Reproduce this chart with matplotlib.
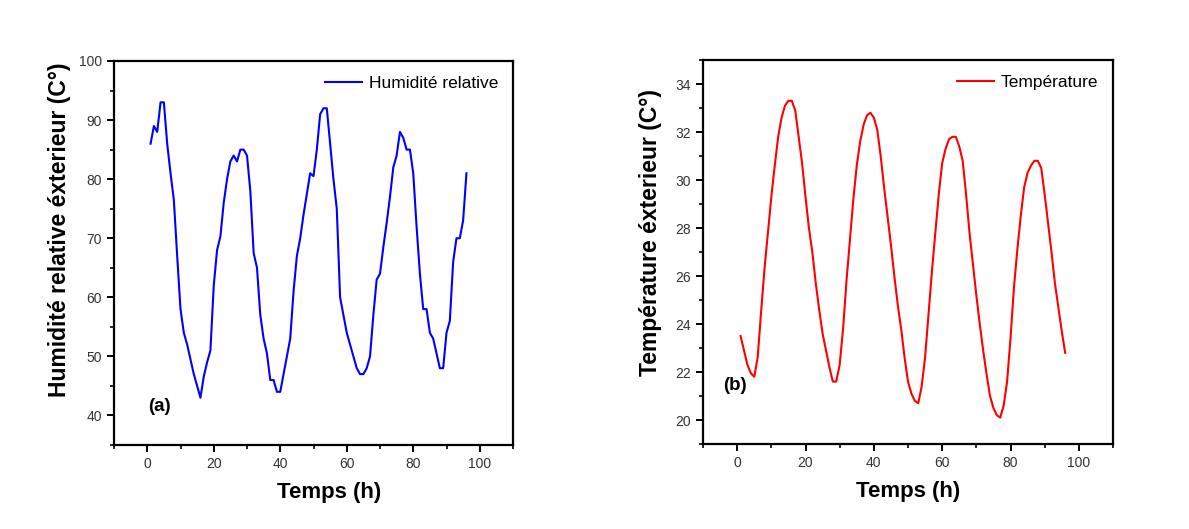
import matplotlib
matplotlib.use("Agg")
import matplotlib.pyplot as plt
from matplotlib.ticker import MultipleLocator

plt.rcParams['font.family'] = ['Liberation Sans', 'DejaVu Sans']

hours = list(range(1, 97))

humidity = [86, 89, 88, 93, 93, 86, 81, 76.5, 67, 58,
            54, 52, 49.5, 47, 45, 43, 46.6, 49, 51, 62,
            68, 70.3, 76, 80, 83, 84, 83, 85, 85, 84,
            78, 67.5, 65, 57, 53, 50.5, 46, 46, 44, 44,
            47, 50, 53, 61, 67, 70, 74, 77.5, 81, 80.5,
            85, 91, 92, 92, 86, 80, 75, 60, 57, 54,
            52, 50, 48, 47, 47, 48, 50, 57, 63, 64,
            68.5, 72.6, 77, 82, 84, 88, 87, 85, 85, 81,
            72, 64, 58, 58, 54, 53, 50.5, 48, 48, 54,
            56, 66, 70, 70, 73, 81]

temperature = [23.5, 22.9, 22.3, 21.95, 21.8, 22.6, 24.5, 26.3, 27.8, 29.3,
               30.6, 31.8, 32.6, 33.1, 33.3, 33.3, 32.9, 31.8, 30.7, 29.3,
               28.0, 27.0, 25.7, 24.6, 23.6, 22.9, 22.2, 21.6, 21.6, 22.3,
               23.8, 25.8, 27.5, 29.2, 30.6, 31.6, 32.3, 32.7, 32.8, 32.6,
               32.1, 31.0, 29.7, 28.5, 27.3, 26.0, 24.8, 23.8, 22.6, 21.6,
               21.1, 20.8, 20.7, 21.4, 22.6, 24.4, 26.2, 27.8, 29.4, 30.7,
               31.3, 31.7, 31.8, 31.8, 31.4, 30.8, 29.4, 27.8, 26.5, 25.2,
               24.0, 22.9, 21.9, 21.0, 20.5, 20.2, 20.1, 20.6, 21.6, 23.4,
               25.5, 27.1, 28.5, 29.7, 30.3, 30.6, 30.8, 30.8, 30.5, 29.4,
               28.2, 27.0, 25.7, 24.7, 23.7, 22.8]

xlabel = "Temps (h)"
ylabel_a = "Humidité relative éxterieur (C°)"
ylabel_b = "Température éxterieur (C°)"
legend_a = "Humidité relative"
legend_b = "Température"

W, H = 1189, 529
fig = plt.figure(figsize=(W / 100, H / 100), dpi=100)
fig.patch.set_facecolor('white')

ax1 = fig.add_axes([114 / W, 1 - 445 / H, (513 - 114) / W, (445 - 61) / H])
ax2 = fig.add_axes([703 / W, 1 - 444 / H, (1113 - 703) / W, (444 - 60) / H])


def style(ax):
    for s in ax.spines.values():
        s.set_linewidth(1.6)
        s.set_color('black')
    ax.tick_params(axis='both', which='major', direction='out', length=5, width=1.4,
                   labelsize=10, colors='black', labelcolor='#333333')
    ax.tick_params(axis='both', which='minor', direction='out', length=3, width=1.2)
    ax.tick_params(top=False, right=False, which='both')
    ax.xaxis.set_major_locator(MultipleLocator(20))
    ax.xaxis.set_minor_locator(MultipleLocator(10))
    ax.set_xlim(-10, 110)
    ax.set_xlabel(xlabel, fontsize=16, fontweight='bold', labelpad=8)


ax1.plot(hours, humidity, color='#0000ff', lw=1.5, label=legend_a)
style(ax1)
ax1.set_ylim(35, 100)
ax1.yaxis.set_major_locator(MultipleLocator(10))
ax1.yaxis.set_minor_locator(MultipleLocator(5))
ax1.set_ylabel(ylabel_a, fontsize=16.5, fontweight='bold', labelpad=6)
ax1.yaxis.label.set_y(0.56)
ax1.xaxis.label.set_x(0.54)
ax1.text(0.3, 41.5, "(a)", fontsize=13.5, fontweight='bold', va='center', ha='left')
ax1.legend(loc='upper right', frameon=False, fontsize=12.5, handlelength=2.1,
           borderaxespad=0.45, handletextpad=0.4)

ax2.plot(hours, temperature, color='#ff0000', lw=1.5, label=legend_b)
style(ax2)
ax2.set_ylim(19, 35)
ax2.yaxis.set_major_locator(MultipleLocator(2))
ax2.yaxis.set_minor_locator(MultipleLocator(1))
ax2.set_ylabel(ylabel_b, fontsize=16.5, fontweight='bold', labelpad=10)
ax2.yaxis.label.set_y(0.552)
ax2.text(-4, 21.45, "(b)", fontsize=13.5, fontweight='bold', va='center', ha='left')
ax2.legend(loc='upper right', frameon=False, fontsize=12.5, handlelength=2.1,
           borderaxespad=0.45, handletextpad=0.4)

fig.savefig("out.png", dpi=100)
